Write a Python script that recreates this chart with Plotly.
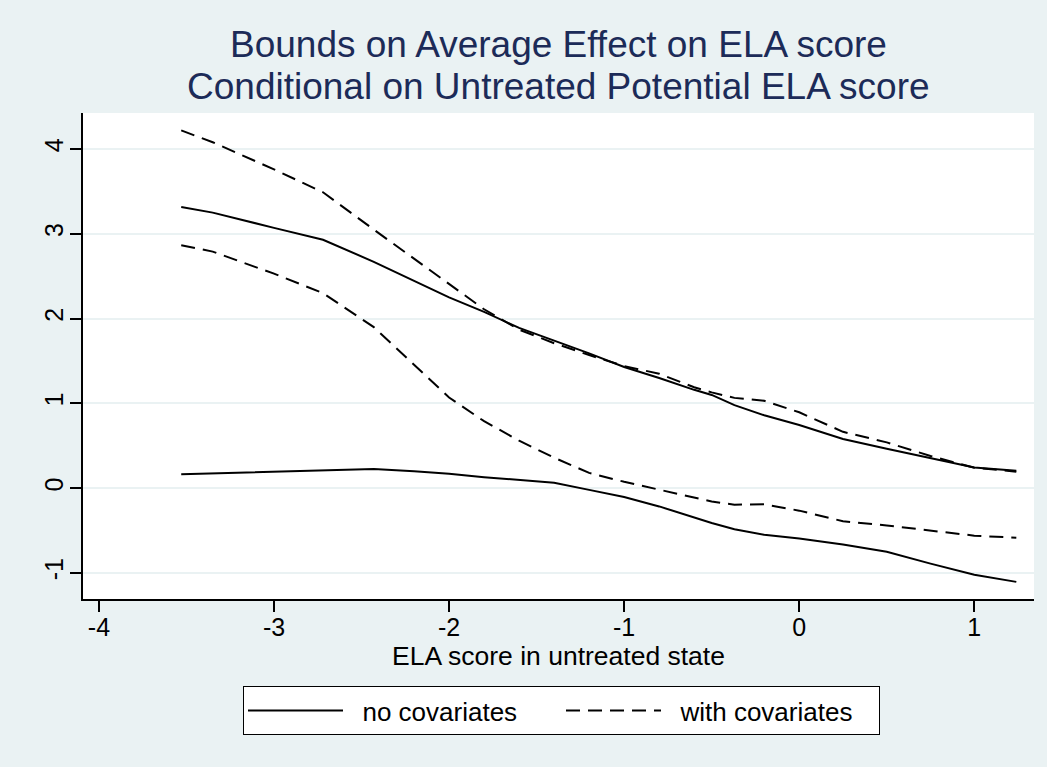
import plotly.graph_objects as go

# ---- data ----
x_grid = [-3.53, -3.35, -3.0, -2.72, -2.43, -2.2, -2.0, -1.8, -1.6, -1.4, -1.2,
          -1.0, -0.8, -0.6, -0.5, -0.37, -0.2, 0.0, 0.25, 0.5, 0.75, 1.0, 1.24]

nocov_upper = [3.315, 3.25, 3.07, 2.93, 2.67, 2.45, 2.25, 2.08, 1.89, 1.74, 1.59,
               1.43, 1.30, 1.16, 1.10, 0.98, 0.86, 0.745, 0.58, 0.465, 0.358, 0.245, 0.205]
nocov_lower = [0.165, 0.175, 0.20, 0.215, 0.225, 0.20, 0.17, 0.13, 0.095, 0.065, -0.02,
               -0.105, -0.215, -0.35, -0.41, -0.485, -0.55, -0.594, -0.665, -0.75, -0.89, -1.02, -1.105]
cov_upper = [4.22, 4.08, 3.76, 3.49, 3.05, 2.71, 2.41, 2.11, 1.87, 1.71, 1.57,
             1.44, 1.35, 1.19, 1.13, 1.065, 1.03, 0.895, 0.665, 0.54, 0.38, 0.24, 0.195]
cov_lower = [2.866, 2.79, 2.53, 2.30, 1.90, 1.46, 1.07, 0.79, 0.56, 0.36, 0.18,
             0.075, -0.018, -0.105, -0.157, -0.195, -0.19, -0.265, -0.39, -0.44, -0.50, -0.56, -0.585]

x_ticks = [-4, -3, -2, -1, 0, 1]
y_ticks = [-1, 0, 1, 2, 3, 4]

title_line1 = "Bounds on Average Effect on ELA score"
title_line2 = "Conditional on Untreated Potential ELA score"
x_title = "ELA score in untreated state"
name_nocov = "no covariates"
name_cov = "with covariates"

# ---- figure ----
FONT = "Liberation Sans, Arial, sans-serif"
BG = "#EAF2F3"
NAVY = "#1C2B58"
PLOT_TOP, PLOT_BOTTOM = 113, 599
PLOT_H = PLOT_BOTTOM - PLOT_TOP
PLOT_L, PLOT_R = 83, 1034
NBSP = "\u00a0"


def paper_y(py):
    return (PLOT_BOTTOM - py) / PLOT_H


fig = go.Figure()
fig.add_trace(go.Scatter(x=x_grid, y=nocov_upper, mode="lines", name=NBSP * 2 + name_nocov,
                         legendgroup="nocov", showlegend=True,
                         line=dict(color="black", width=2)))
fig.add_trace(go.Scatter(x=x_grid, y=nocov_lower, mode="lines", name=name_nocov,
                         legendgroup="nocov", showlegend=False,
                         line=dict(color="black", width=2)))
fig.add_trace(go.Scatter(x=x_grid, y=cov_upper, mode="lines", name=NBSP * 2 + name_cov,
                         legendgroup="cov", showlegend=True,
                         line=dict(color="black", width=2, dash="14px,8px")))
fig.add_trace(go.Scatter(x=x_grid, y=cov_lower, mode="lines", name=name_cov,
                         legendgroup="cov", showlegend=False,
                         line=dict(color="black", width=2, dash="14px,8px")))

fig.update_layout(
    width=1047, height=767,
    paper_bgcolor=BG, plot_bgcolor="white",
    margin=dict(l=PLOT_L, r=1047 - PLOT_R, t=PLOT_TOP, b=767 - PLOT_BOTTOM),
    font=dict(family=FONT, color="black", size=26),
    showlegend=True,
    legend=dict(orientation="h", x=0.5 + 3 / (PLOT_R - PLOT_L), xanchor="center", xref="paper",
                y=1 - 686 / 767, yref="container", yanchor="top",
                bgcolor="white", bordercolor="black", borderwidth=1,
                font=dict(size=26, family=FONT, color="black"),
                itemwidth=95, entrywidth=208, entrywidthmode="pixels",
                tracegroupgap=0),
    annotations=[
        dict(text=title_line1, x=0.5, xref="paper", y=paper_y(45), yref="paper",
             xanchor="center", yanchor="middle", showarrow=False,
             font=dict(size=37, family=FONT, color=NAVY)),
        dict(text=title_line2, x=0.5, xref="paper", y=paper_y(87), yref="paper",
             xanchor="center", yanchor="middle", showarrow=False,
             font=dict(size=37, family=FONT, color=NAVY)),
    ],
)

fig.update_xaxes(range=[-4.091, 1.341], tickvals=x_ticks, ticktext=[str(v) for v in x_ticks],
                 showgrid=False, zeroline=False,
                 showline=True, linecolor="black", linewidth=2,
                 ticks="outside", ticklen=11, tickwidth=1.5, tickcolor="black",
                 ticklabelstandoff=-6,
                 tickfont=dict(size=25, family=FONT, color="black"),
                 title=dict(text=x_title, font=dict(size=26.5, family=FONT, color="black"), standoff=4))
fig.update_yaxes(range=[-1.307, 4.425], tickvals=y_ticks, ticktext=[str(v) for v in y_ticks],
                 showgrid=True, gridcolor=BG, gridwidth=2, zeroline=False,
                 showline=True, linecolor="black", linewidth=2,
                 ticks="outside", ticklen=11, tickwidth=1.5, tickcolor="black",
                 tickangle=-90, ticklabelstandoff=-3,
                 tickfont=dict(size=25, family=FONT, color="black"))

fig.write_html("out.html")
